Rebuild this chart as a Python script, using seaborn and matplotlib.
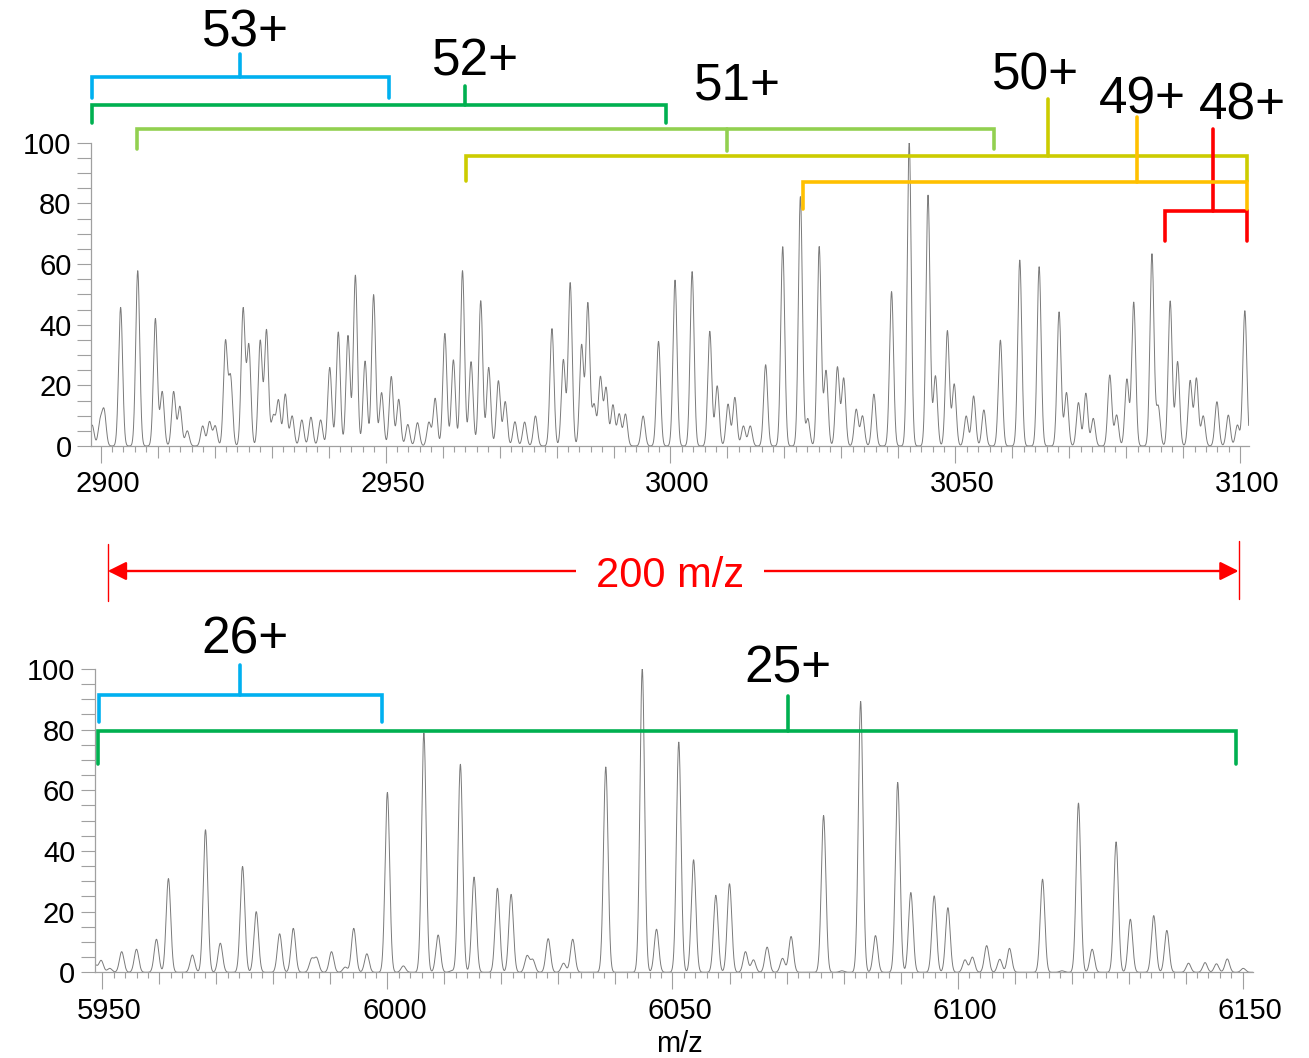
import numpy as np
import pandas as pd
import seaborn as sns
import matplotlib.pyplot as plt
from matplotlib.ticker import MultipleLocator, FuncFormatter
from matplotlib.patches import FancyArrowPatch
from matplotlib.lines import Line2D
from matplotlib.transforms import ScaledTranslation

sns.set_style("white")
plt.rcParams['font.family'] = ['Liberation Sans', 'DejaVu Sans']
plt.rcParams['text.color'] = 'black'
plt.rcParams['axes.labelcolor'] = 'black'
plt.rcParams['xtick.labelcolor'] = 'black'
plt.rcParams['ytick.labelcolor'] = 'black'

# peak lists (m/z, relative intensity %)
top_mz = [2898.5, 2899.9, 2900.6, 2903.5, 2906.5, 2909.6, 2910.8, 2912.8, 2913.9, 2915.2,
          2917.9, 2919.1, 2920.1, 2921.9, 2922.8, 2925.0, 2926.0, 2928.0, 2929.1, 2930.3,
          2931.2, 2932.4, 2933.6, 2935.3, 2936.9, 2938.6, 2940.2, 2941.7, 2943.4, 2944.7,
          2946.4, 2947.9, 2949.3, 2951.0, 2952.3, 2953.9, 2955.6, 2957.6, 2958.7, 2960.4,
          2961.9, 2963.5, 2965.0, 2966.7, 2968.1, 2969.8, 2971.0, 2972.7, 2974.4, 2976.3,
          2979.2, 2981.2, 2982.4, 2984.4, 2985.5, 2986.6, 2987.7, 2988.7, 2989.9, 2991.0,
          2992.1, 2995.2, 2997.9, 3000.8, 3003.8, 3006.9, 3008.2, 3010.1, 3011.3, 3012.8,
          3014.0, 3016.7, 3019.7, 3022.8, 3024.1, 3026.1, 3027.3, 3029.3, 3030.4, 3032.6,
          3033.7, 3035.7, 3038.8, 3041.9, 3045.2, 3046.5, 3048.6, 3049.8, 3051.9, 3053.2,
          3055.0, 3057.9, 3061.3, 3064.7, 3068.2, 3069.5, 3071.6, 3072.9, 3074.2, 3077.1,
          3078.3, 3080.1, 3081.3, 3084.5, 3085.6, 3087.7, 3089.0, 3091.2, 3092.3, 3093.5,
          3095.9, 3097.9, 3099.5, 3100.8]
top_int = [6.9, 7.7, 11.3, 45.7, 57.8, 42.0, 17.9, 17.9, 13.0, 5.0,
           6.6, 8.0, 6.6, 34.2, 22.3, 45.1, 33.0, 34.7, 38.2, 9.7,
           14.9, 17.1, 9.9, 8.6, 9.5, 8.6, 25.9, 37.6, 36.4, 56.3,
           28.0, 49.9, 17.6, 22.9, 15.4, 7.1, 7.7, 7.8, 15.7, 37.1,
           28.4, 57.8, 27.8, 47.9, 25.9, 21.5, 14.6, 8.0, 7.9, 9.9,
           38.7, 28.4, 53.8, 33.2, 47.0, 13.5, 22.6, 19.0, 13.5, 10.5,
           10.5, 9.9, 34.5, 54.7, 57.5, 37.8, 19.8, 13.8, 16.0, 6.6,
           6.6, 26.8, 65.7, 82.2, 9.0, 65.7, 24.8, 26.0, 22.3, 12.1,
           9.9, 17.1, 50.9, 100.0, 82.7, 23.1, 38.0, 20.4, 9.9, 16.5,
           11.9, 34.9, 61.3, 59.1, 44.2, 17.6, 14.3, 17.4, 9.1, 23.4,
           10.2, 22.0, 47.4, 63.3, 13.0, 47.8, 27.8, 21.5, 22.3, 9.9,
           14.6, 10.2, 6.9, 44.6]

bot_mz = [5948.7, 5949.8, 5951.3, 5953.4, 5956.0, 5959.5, 5961.6, 5965.8, 5968.1, 5970.7,
          5974.6, 5977.0, 5981.1, 5983.5, 5986.7, 5987.6, 5990.2, 5992.6, 5994.1, 5996.4,
          6000.0, 6002.8, 6006.4, 6008.9, 6011.3, 6012.8, 6015.2, 6019.3, 6021.7, 6024.5,
          6025.5, 6028.2, 6030.9, 6032.5, 6038.3, 6044.7, 6047.2, 6051.1, 6053.7, 6057.6,
          6060.0, 6062.8, 6064.2, 6066.6, 6069.3, 6070.8, 6076.5, 6079.7, 6083.0, 6085.6,
          6089.5, 6091.8, 6095.9, 6098.3, 6101.3, 6102.6, 6105.1, 6107.4, 6109.1, 6114.9,
          6118.3, 6121.2, 6123.6, 6127.8, 6130.3, 6134.4, 6136.7, 6140.5, 6143.4, 6145.4,
          6147.3, 6150.1]
bot_int = [2.4, 3.9, 1.3, 6.8, 7.6, 10.9, 30.9, 5.7, 47.0, 9.6,
           34.9, 20.0, 12.7, 14.5, 4.3, 4.6, 6.8, 1.7, 14.5, 6.1,
           59.3, 2.1, 78.9, 12.3, 0.5, 68.6, 31.4, 27.7, 25.7, 5.4,
           4.1, 11.1, 3.0, 10.9, 67.7, 100.0, 14.2, 75.9, 37.1, 25.4,
           29.2, 6.8, 4.1, 8.3, 4.6, 11.8, 51.7, 0.5, 89.3, 12.1,
           62.6, 26.3, 25.2, 21.3, 4.1, 5.0, 8.8, 4.3, 7.9, 30.7,
           0.5, 55.8, 7.6, 43.0, 17.5, 18.7, 13.8, 3.0, 3.2, 2.8,
           4.4, 1.3]

# charge state series: first peak, last peak, centre mark (m/z)
top_charges = ['53+', '52+', '51+', '50+', '49+', '48+']
top_first = [2898.5, 2898.5, 2906.3, 2964.1, 3023.3, 3086.8]
top_last = [2950.6, 2999.3, 3056.8, 3101.2, 3101.2, 3101.2]
top_mid = [2924.5, 2963.9, 3009.9, 3066.3, 3081.8, 3095.2]

bot_charges = ['26+', '25+']
bot_first = [5949.4, 5949.2]
bot_last = [5999.1, 6148.8]
bot_mid = [5974.2, 6070.2]

# bracket layout (y levels in % units above the spectrum) and colours
top_bar_y = [121.6, 112.4, 104.4, 95.6, 87.1, 77.5]
top_end_y = [114.6, 106.4, 97.8, 87.3, 78.0, 67.7]
top_tick_y = [129.2, 118.7, 97.4, 114.3, 108.4, 104.5]
top_lab_x = [2925.4, 2965.8, 3011.7, 3064.0, 3082.9, 3100.4]
top_lab_y = [131.7, 122.3, 114.1, 117.4, 109.7, 107.7]
top_colors = ['#00B0F0', '#00B050', '#92D050', '#CCCC00', '#FFC000', '#FF0000']
top_z = [3.0, 3.1, 3.2, 3.3, 3.5, 3.4]

bot_bar_y = [91.5, 79.6]
bot_end_y = [82.4, 68.7]
bot_tick_y = [101.4, 91.2]
bot_lab_x = [5975.1, 6070.2]
bot_lab_y = [105.0, 95.4]
bot_colors = ['#00B0F0', '#00B050']

AX_GREY = '#a0a0a0'
LINE_GREY = '#7a7a7a'


def profile(mz, inten, lo, hi, sigma):
    x = np.arange(lo, hi, 0.02)
    y = np.zeros_like(x)
    for m, h in zip(mz, inten):
        y += h * np.exp(-0.5 * ((x - m) / sigma) ** 2)
    return pd.DataFrame({'mz': x, 'intensity': y})


def style_axis(ax, xlim):
    ax.set_xlim(*xlim)
    ax.set_ylim(0, 100)
    sns.despine(ax=ax)
    for s in ['left', 'bottom']:
        ax.spines[s].set_color(AX_GREY)
        ax.spines[s].set_linewidth(0.9)
    ax.yaxis.set_major_locator(MultipleLocator(20))
    ax.yaxis.set_minor_locator(MultipleLocator(5))
    ax.xaxis.set_major_locator(MultipleLocator(10))
    ax.xaxis.set_minor_locator(MultipleLocator(2))
    ax.xaxis.set_major_formatter(FuncFormatter(
        lambda v, p: f"{v:.0f}" if round(v) % 50 == 0 else ""))
    ax.tick_params(axis='y', which='both', length=10, width=0.8, color=AX_GREY,
                   labelsize=21, labelcolor='black', pad=4, left=True)
    ax.tick_params(axis='x', which='major', length=8.5, width=0.8, color=AX_GREY,
                   labelsize=21, labelcolor='black', pad=9, bottom=True)
    ax.tick_params(axis='x', which='minor', length=4.3, width=0.8, color=AX_GREY,
                   bottom=True)
    ax.set_xlabel('')
    ax.set_ylabel('')
    shift = ScaledTranslation(7 / 100, 0, fig.dpi_scale_trans)
    for t, loc in zip(ax.xaxis.get_major_ticks(), ax.xaxis.get_majorticklocs()):
        t.label1.set_transform(t.label1.get_transform() + shift)
        if round(loc) % 50 == 0:
            t.tick1line.set_markersize(12.5)


def bracket(ax, x0, x1, xm, y, yend, ytick, color, z):
    ax.plot([x0, x0, x1, x1], [yend, y, y, yend], color=color, lw=2.6,
            clip_on=False, zorder=z, solid_joinstyle='miter')
    ax.plot([xm, xm], [y, ytick], color=color, lw=2.6, clip_on=False, zorder=z)


fig = plt.figure(figsize=(13.09, 10.58), dpi=100)
ax1 = fig.add_axes([0.06952, 0.57845, 0.88464, 0.28667])
ax2 = fig.add_axes([0.07235, 0.08100, 0.88487, 0.28667])

top_df = profile(top_mz, top_int, 2898.3, 3101.5, 0.35)
bot_df = profile(bot_mz, bot_int, 5948.7, 6151.8, 0.40)

sns.lineplot(data=top_df, x='mz', y='intensity', ax=ax1, color=LINE_GREY,
             lw=0.7, estimator=None, sort=False, zorder=2)
sns.lineplot(data=bot_df, x='mz', y='intensity', ax=ax2, color=LINE_GREY,
             lw=0.7, estimator=None, sort=False, zorder=2)

style_axis(ax1, (2898.3, 3101.53))
style_axis(ax2, (5948.67, 6151.81))
ax2.set_xlabel('m/z', fontsize=21, labelpad=4, color='black')
ax2.xaxis.label.set_transform(ax2.xaxis.label.get_transform()
                              + ScaledTranslation(6 / 100, 0, fig.dpi_scale_trans))

for i, lab in enumerate(top_charges):
    bracket(ax1, top_first[i], top_last[i], top_mid[i], top_bar_y[i],
            top_end_y[i], top_tick_y[i], top_colors[i], top_z[i])
    ax1.text(top_lab_x[i], top_lab_y[i], lab, fontsize=37, ha='center',
             va='baseline', color='black', clip_on=False)

for i, lab in enumerate(bot_charges):
    bracket(ax2, bot_first[i], bot_last[i], bot_mid[i], bot_bar_y[i],
            bot_end_y[i], bot_tick_y[i], bot_colors[i], 3)
    ax2.text(bot_lab_x[i], bot_lab_y[i], lab, fontsize=37, ha='center',
             va='baseline', color='black', clip_on=False)

# 200 m/z span arrow between the panels
arrow = FancyArrowPatch((0.08235, 0.4603), (0.94622, 0.4603), transform=fig.transFigure,
                        arrowstyle='<|-|>,head_length=0.4,head_width=0.2',
                        mutation_scale=28, color='red', lw=1.7, shrinkA=0, shrinkB=0)
fig.add_artist(arrow)
fig.add_artist(Line2D([0.08235, 0.08235], [0.4319, 0.4858], transform=fig.transFigure,
                      color='red', lw=1))
fig.add_artist(Line2D([0.94622, 0.94622], [0.4341, 0.4889], transform=fig.transFigure,
                      color='red', lw=1))
fig.text(0.5118, 0.4455, '200 m/z', color='red', fontsize=30, ha='center',
         va='baseline', zorder=5,
         bbox=dict(facecolor='white', edgecolor='none', pad=14))

fig.savefig('out.png', dpi=100)
